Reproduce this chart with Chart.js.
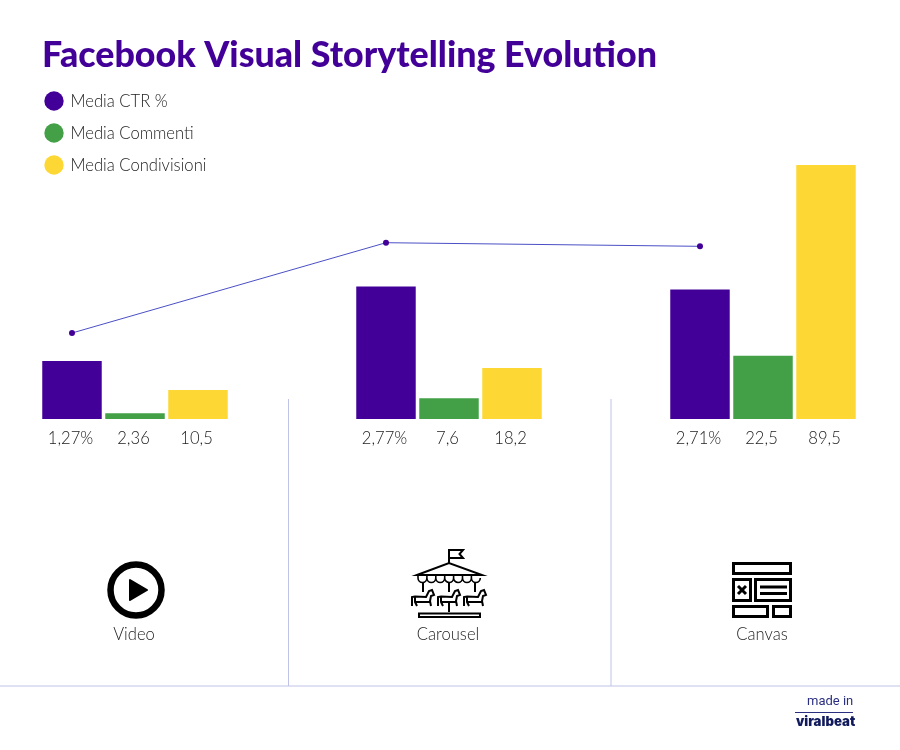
<!DOCTYPE html>
<html><head><meta charset="utf-8">
<style>html,body{margin:0;padding:0;background:#fff}canvas{display:block}</style>
<script src="https://cdn.jsdelivr.net/npm/chart.js@4"></script></head>
<body><canvas id="c" width="900" height="750"></canvas>
<script>
const categories = ['Video', 'Carousel', 'Canvas'];
const ctr = [1.27, 2.77, 2.71];
const commenti = [2.36, 7.6, 22.5];
const condivisioni = [10.5, 18.2, 89.5];
const seriesNames = ['Media CTR %', 'Media Commenti', 'Media Condivisioni'];
const PURPLE = '#430098', GREEN = '#43A047', YELLOW = '#FDD835';
const FAMILY = 'Lato';
const LIGHT = '300 16.6px ' + FAMILY;
const INK = '#222';

function it(v){ return String(v).replace('.', ','); }

function horse(ctx, cx){
  ctx.beginPath();
  ctx.moveTo(cx-11, 606); ctx.lineTo(cx-11, 597); ctx.lineTo(cx-8, 596.5);
  ctx.lineTo(cx+3, 597); ctx.lineTo(cx+6, 591); ctx.lineTo(cx+9, 590);
  ctx.lineTo(cx+11, 595); ctx.lineTo(cx+8, 596); ctx.lineTo(cx+7, 601); ctx.lineTo(cx+8, 606);
  ctx.moveTo(cx-8, 597); ctx.lineTo(cx-8, 602); ctx.lineTo(cx-6, 606);
  ctx.moveTo(cx-8, 602); ctx.lineTo(cx+7, 602);
  ctx.stroke();
}

const decor = {
  id: 'decor',
  beforeDraw(chart){
    const c = chart.ctx; c.save();
    c.strokeStyle = '#bfc3e8'; c.lineWidth = 1;
    c.beginPath();
    c.moveTo(0, 686); c.lineTo(900, 686);
    c.moveTo(288.5, 399); c.lineTo(288.5, 686);
    c.moveTo(611, 399); c.lineTo(611, 686);
    c.stroke();
    // legend
    [PURPLE, GREEN, YELLOW].forEach((col, i) => {
      const y = 101 + i*32;
      c.fillStyle = col; c.beginPath(); c.arc(54, y, 9.7, 0, Math.PI*2); c.fill();
      c.fillStyle = INK; c.font = LIGHT; c.textBaseline = 'middle'; c.textAlign = 'left';
      c.fillText(seriesNames[i], 70.5, y + 1);
    });
    // video icon
    c.strokeStyle = '#000'; c.fillStyle = '#000';
    c.lineWidth = 6.5; c.beginPath(); c.arc(136, 590, 25.5, 0, Math.PI*2); c.stroke();
    c.lineJoin = 'round'; c.lineWidth = 2;
    c.beginPath(); c.moveTo(130, 580); c.lineTo(147, 590); c.lineTo(130, 600); c.closePath(); c.fill(); c.stroke();
    // canvas icon
    c.lineJoin = 'miter'; c.lineWidth = 3;
    [[733.5,563.5,57,10],[733.5,579.5,17,21],[755.5,579.5,35,21],[733.5,606.5,34,10],[773.5,606.5,17,10]]
      .forEach(r => c.strokeRect(r[0], r[1], r[2], r[3]));
    c.beginPath(); c.moveTo(738, 586); c.lineTo(746, 594); c.moveTo(746, 586); c.lineTo(738, 594);
    c.moveTo(760, 587); c.lineTo(787, 587); c.moveTo(760, 593.5); c.lineTo(787, 593.5); c.stroke();
    // carousel icon
    c.lineWidth = 2;
    c.beginPath(); c.moveTo(449, 563); c.lineTo(449, 550); c.lineTo(463, 550); c.lineTo(459.5, 554); c.lineTo(463, 558); c.lineTo(449, 558);
    c.moveTo(417, 575); c.lineTo(449, 563); c.lineTo(482, 575); c.closePath();
    c.stroke();
    c.lineWidth = 1.6;
    c.beginPath();
    for (let i = 0; i < 7; i++) {
      const x = 418 + i*8.9;
      c.moveTo(x, 576); c.lineTo(x, 578); c.arc(x+4.45, 578, 4.45, Math.PI, 0, true);
    }
    c.stroke();
    c.lineWidth = 2;
    c.beginPath();
    [423, 449, 475].forEach(x => { c.moveTo(x, 583); c.lineTo(x, 592); });
    c.moveTo(449, 602); c.lineTo(449, 612);
    c.stroke();
    c.strokeRect(419, 613.5, 61, 3.5);
    [423, 449, 475].forEach(x => horse(c, x));
    // credit
    c.fillStyle = '#2B2F7F'; c.font = '13px Roboto'; c.textAlign = 'left'; c.textBaseline = 'middle';
    c.fillText('made in', 807, 701.5);
    c.strokeStyle = '#2B2F7F'; c.lineWidth = 1; c.beginPath(); c.moveTo(795, 712.5); c.lineTo(853, 712.5); c.stroke();
    c.fillStyle = '#101A5C'; c.font = '900 13.2px Inter'; c.fillText('viralbeat', 796, 722.5);
    c.restore();
  },
  beforeDatasetDraw(chart, args){
    if (args.index !== 3) return;
    const c = chart.ctx; c.save();
    // the line sits over the purple bars, not over the group centres
    c.translate(chart.getDatasetMeta(0).data[0].x - chart.scales.x.getPixelForTick(0), 0);
  },
  afterDatasetDraw(chart, args){
    if (args.index === 3) chart.ctx.restore();
  },
  afterDatasetsDraw(chart){
    const c = chart.ctx; c.save();
    c.font = LIGHT; c.fillStyle = INK; c.textAlign = 'center'; c.textBaseline = 'middle';
    const base = chart.chartArea.bottom;
    [[ctr, v => it(v)+'%'], [commenti, it], [condivisioni, it]].forEach((s, d) => {
      chart.getDatasetMeta(d).data.forEach((bar, i) => c.fillText(s[1](s[0][i]), bar.x - 1.5, base + 20));
    });
    c.restore();
  }
};

new Chart(document.getElementById('c'), {
  type: 'bar',
  plugins: [decor],
  data: {
    labels: categories,
    datasets: [
      { label: seriesNames[0], data: ctr, backgroundColor: PURPLE, yAxisID: 'yCtr', base: 0.1, clip: false, order: 2 },
      { label: seriesNames[1], data: commenti, backgroundColor: GREEN, yAxisID: 'y', base: 0.3, clip: false, order: 2 },
      { label: seriesNames[2], data: condivisioni, backgroundColor: YELLOW, yAxisID: 'y', base: 0.3, clip: false, order: 2 },
      { type: 'line', label: seriesNames[0], data: ctr, yAxisID: 'yLine',
        borderColor: '#4A4FC4', borderWidth: 1, tension: 0, clip: false, order: 1,
        pointBackgroundColor: PURPLE, pointBorderColor: PURPLE, pointRadius: 3, pointBorderWidth: 0 }
    ]
  },
  options: {
    responsive: false, animation: false,
    layout: { padding: { left: 42, right: 137, top: 0, bottom: 0 } },
    datasets: { bar: { categoryPercentage: 0.602, barPercentage: 0.944 } },
    plugins: {
      legend: { display: false }, tooltip: { enabled: false },
      title: { display: true, text: 'Facebook Visual Storytelling Evolution', align: 'start', color: PURPLE,
        font: { family: FAMILY, size: 35.8, weight: '900', lineHeight: 1.2 }, padding: { top: 34, bottom: 54 } }
    },
    scales: {
      x: { type: 'category', offset: false, grid: { display: false, drawTicks: false }, border: { display: false },
        ticks: { padding: 206, labelOffset: -1, color: INK, font: { family: FAMILY, size: 16.6, weight: '300' }, autoSkip: false, maxRotation: 0 },
        afterFit(s){ s.height = 331; s.paddingLeft = 0; s.paddingRight = 0; } },
      y: { min: 0.3, max: 101.46, grid: { display: false }, border: { display: false }, ticks: { display: false },
        afterFit(s){ s.width = 93; } },
      yCtr: { display: false, min: 0.1, max: 5.9 },
      yLine: { display: false, min: -0.158, max: 4.626 }
    }
  }
});
</script></body></html>
